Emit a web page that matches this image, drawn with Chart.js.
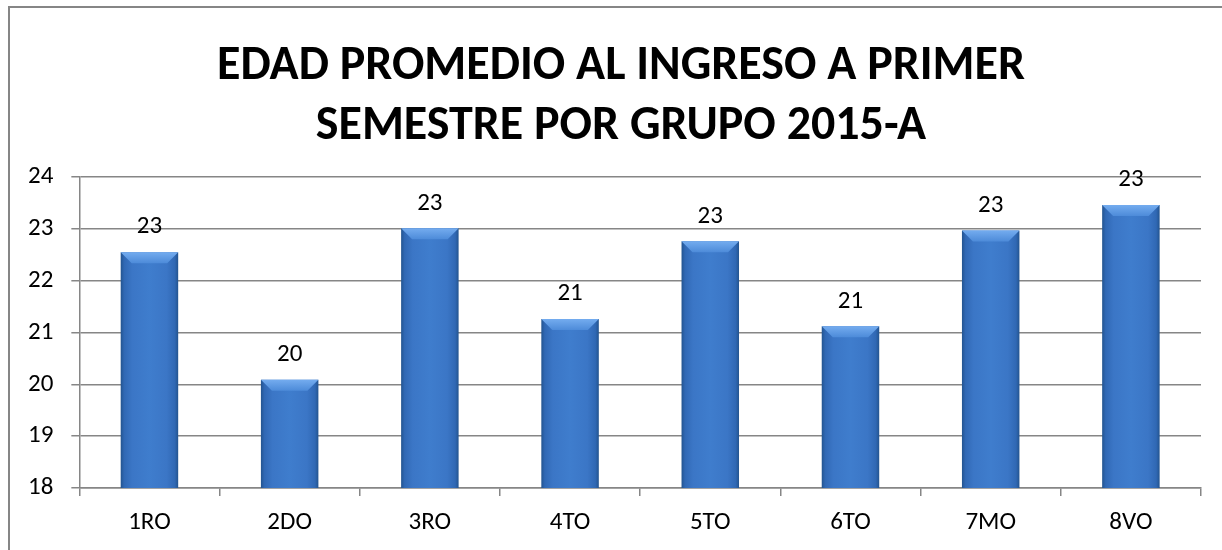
<!DOCTYPE html>
<html>
<head>
<meta charset="utf-8">
<script src="https://cdn.jsdelivr.net/npm/chart.js@4"></script>
<style>
  html, body { margin: 0; padding: 0; background: #fff; overflow: hidden; }
  #frame {
    position: absolute; left: 8px; top: 6px; width: 1240px; height: 560px;
    border-left: 2px solid #868686; border-top: 2px solid #868686;
  }
  #wrap { position: absolute; left: 0; top: 0; width: 1222px; height: 550px; }
</style>
</head>
<body>
<div id="frame"></div>
<div id="wrap"><canvas id="chart"></canvas></div>
<script>
// Chart data
const groups = ['1RO', '2DO', '3RO', '4TO', '5TO', '6TO', '7MO', '8VO'];
const ages = [22.55, 20.09, 23.01, 21.26, 22.76, 21.12, 22.97, 23.46];
const titleLines = ['EDAD PROMEDIO AL INGRESO A PRIMER', 'SEMESTRE POR GRUPO 2015-A'];

const font = "Calibri, Carlito, 'Open Sans', sans-serif";
const barPct = 0.41;

// Horizontal gradient to mimic the bevelled bars
function barFill(context) {
  const chart = context.chart;
  const xs = chart.scales.x;
  if (!chart.chartArea || !xs || context.dataIndex === undefined) return '#3c78c8';
  const cx = xs.getPixelForValue(context.dataIndex);
  const half = (xs.width / groups.length) * barPct / 2;
  if (!Number.isFinite(cx) || !Number.isFinite(half) || half <= 0) return '#3c78c8';
  const g = chart.ctx.createLinearGradient(cx - half, 0, cx + half, 0);
  g.addColorStop(0, '#23548f');
  g.addColorStop(0.06, '#3068b4');
  g.addColorStop(0.2, '#3b76c6');
  g.addColorStop(0.5, '#3f7dcd');
  g.addColorStop(0.8, '#3b76c6');
  g.addColorStop(0.94, '#3068b4');
  g.addColorStop(1, '#23548f');
  return g;
}

// Bevel highlight on top of each bar, darker foot
const bevelPlugin = {
  id: 'bevel',
  afterDatasetsDraw(chart) {
    const ctx = chart.ctx;
    chart.getDatasetMeta(0).data.forEach(bar => {
      const half = bar.width / 2;
      const l = bar.x - half, r = bar.x + half, t = bar.y;
      const d = 11;
      ctx.save();
      const g = ctx.createLinearGradient(0, t, 0, t + d);
      g.addColorStop(0, '#74acef');
      g.addColorStop(1, '#4d8bd9');
      ctx.fillStyle = g;
      ctx.beginPath();
      ctx.moveTo(l, t);
      ctx.lineTo(r, t);
      ctx.lineTo(r - d, t + d);
      ctx.lineTo(l + d, t + d);
      ctx.closePath();
      ctx.fill();
      ctx.fillStyle = 'rgba(25,60,115,0.3)';
      ctx.fillRect(l, bar.base - 5, bar.width, 5);
      ctx.restore();
    });
  }
};

// Rounded value labels above bars
const valueLabels = {
  id: 'valueLabels',
  afterDatasetsDraw(chart) {
    const ctx = chart.ctx;
    const meta = chart.getDatasetMeta(0);
    ctx.save();
    ctx.font = '25px ' + font;
    ctx.fillStyle = '#000';
    ctx.textAlign = 'center';
    ctx.textBaseline = 'middle';
    meta.data.forEach((bar, i) => {
      ctx.fillText(String(Math.round(ages[i])), bar.x, bar.y - 25);
    });
    ctx.restore();
  }
};

// Two-line bold title, centred on the chart frame
const titlePlugin = {
  id: 'frameTitle',
  afterDraw(chart) {
    const ctx = chart.ctx;
    ctx.save();
    ctx.font = 'bold 48px ' + font;
    ctx.fillStyle = '#000';
    ctx.textAlign = 'center';
    ctx.textBaseline = 'middle';
    titleLines.forEach((line, i) => {
      ctx.fillText(line, 621, 67 + i * 60);
    });
    ctx.restore();
  }
};

new Chart(document.getElementById('chart'), {
  type: 'bar',
  data: {
    labels: groups,
    datasets: [{
      data: ages,
      backgroundColor: barFill,
      borderWidth: 0,
      barPercentage: barPct,
      categoryPercentage: 1
    }]
  },
  options: {
    responsive: true,
    maintainAspectRatio: false,
    animation: false,
    layout: { padding: { left: 10, right: 21, top: 177, bottom: 0 } },
    plugins: {
      legend: { display: false },
      tooltip: { enabled: false },
      title: { display: false }
    },
    scales: {
      y: {
        min: 18,
        max: 24,
        ticks: { stepSize: 1, color: '#000', font: { family: font, size: 25 }, padding: 18 },
        grid: { color: '#868686', lineWidth: 1.5, tickLength: 8, drawTicks: true },
        border: { color: '#868686', width: 1.5 }
      },
      x: {
        ticks: { color: '#000', font: { family: font, size: 25 }, padding: 12 },
        grid: { display: true, drawOnChartArea: false, color: '#868686', tickLength: 8, lineWidth: 1.5 },
        border: { color: '#868686', width: 1.5 }
      }
    }
  },
  plugins: [bevelPlugin, valueLabels, titlePlugin]
});
</script>
</body>
</html>
